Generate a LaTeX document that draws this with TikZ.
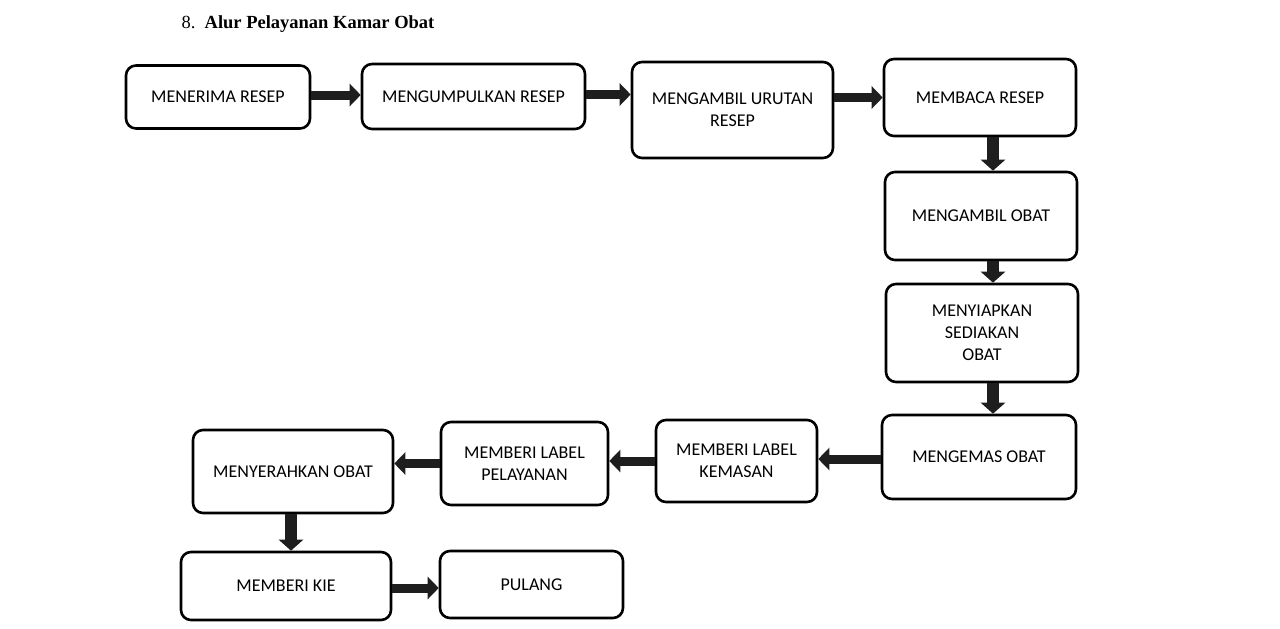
\documentclass[tikz,border=0pt]{standalone}
\usepackage{fontspec}
\setmainfont{Carlito}
\newfontfamily\titlefont{Liberation Serif}
\usetikzlibrary{arrows.meta}
\definecolor{arrowc}{HTML}{1E1E1E}
\tikzset{
  box/.style={draw=black, line width=2.6pt, rounded corners=10pt, fill=white,
    align=center, inner sep=0pt, font=\fontsize{18}{22}\selectfont},
  arr/.style={draw=arrowc, line width=9pt, -{Triangle[width=22pt,length=11pt]}},
  arrv/.style={draw=arrowc, line width=12pt, -{Triangle[width=24pt,length=11pt]}}
}
\begin{document}
\begin{tikzpicture}[x=1pt,y=-1pt]
\useasboundingbox (0,0) rectangle (1280,629);
\node[anchor=base west, font=\titlefont\fontsize{18.5}{22}\selectfont] (title) at (178,28) {8.\enspace\textbf{Alur Pelayanan Kamar Obat}};

\node[box, minimum width=184pt, minimum height=63pt] (m1) at (218,97) {MENERIMA RESEP};
\node[box, minimum width=223pt, minimum height=65pt] (m2) at (473.5,96.5) {MENGUMPULKAN RESEP};
\node[box, minimum width=201pt, minimum height=96pt] (m3) at (732.5,110) {MENGAMBIL URUTAN\\RESEP};
\node[box, minimum width=192pt, minimum height=77pt] (m4) at (980,97.5) {MEMBACA RESEP};
\node[box, minimum width=192pt, minimum height=88pt] (m5) at (981,216) {MENGAMBIL OBAT};
\node[box, minimum width=192pt, minimum height=98pt] (m6) at (982,333) {MENYIAPKAN\\SEDIAKAN\\OBAT};
\node[box, minimum width=194pt, minimum height=84pt] (m7) at (979,457) {MENGEMAS OBAT};
\node[box, minimum width=161pt, minimum height=82pt] (m8) at (736.5,461) {MEMBERI LABEL\\KEMASAN};
\node[box, minimum width=167pt, minimum height=83pt] (m9) at (524.5,463.5) {MEMBERI LABEL\\PELAYANAN};
\node[box, minimum width=200pt, minimum height=83pt] (m10) at (293,471.5) {MENYERAHKAN OBAT};
\node[box, minimum width=210pt, minimum height=68pt] (m11) at (286,586) {MEMBERI KIE};
\node[box, minimum width=183pt, minimum height=67pt] (m12) at (531.5,584.5) {PULANG};

\draw[arr] ([yshift=2pt]m1.east) -- ([yshift=2pt]m1.east -| m2.west);
\draw[arr] ([yshift=2pt]m2.east) -- ([yshift=2pt]m2.east -| m3.west);
\draw[arr] (m3.east |- m4.west) -- (m4.west);
\draw[arrv] ([xshift=13pt]m4.south) -- ([xshift=13pt]m4.south |- m5.north);
\draw[arrv] ([xshift=12pt]m5.south) -- ([xshift=12pt]m5.south |- m6.north);
\draw[arrv] ([xshift=11pt]m6.south) -- ([xshift=11pt]m6.south |- m7.north);
\draw[arr] ([yshift=-2pt]m7.west) -- ([yshift=-2pt]m7.west -| m8.east);
\draw[arr] (m8.west) -- (m8.west -| m9.east);
\draw[arr] (m9.west) -- (m9.west -| m10.east);
\draw[arrv] ([xshift=-2pt]m10.south) -- ([xshift=-2pt]m10.south |- m11.north);
\draw[arr] ([yshift=-2pt]m11.east) -- ([yshift=-2pt]m11.east -| m12.west);
\end{tikzpicture}
\end{document}
